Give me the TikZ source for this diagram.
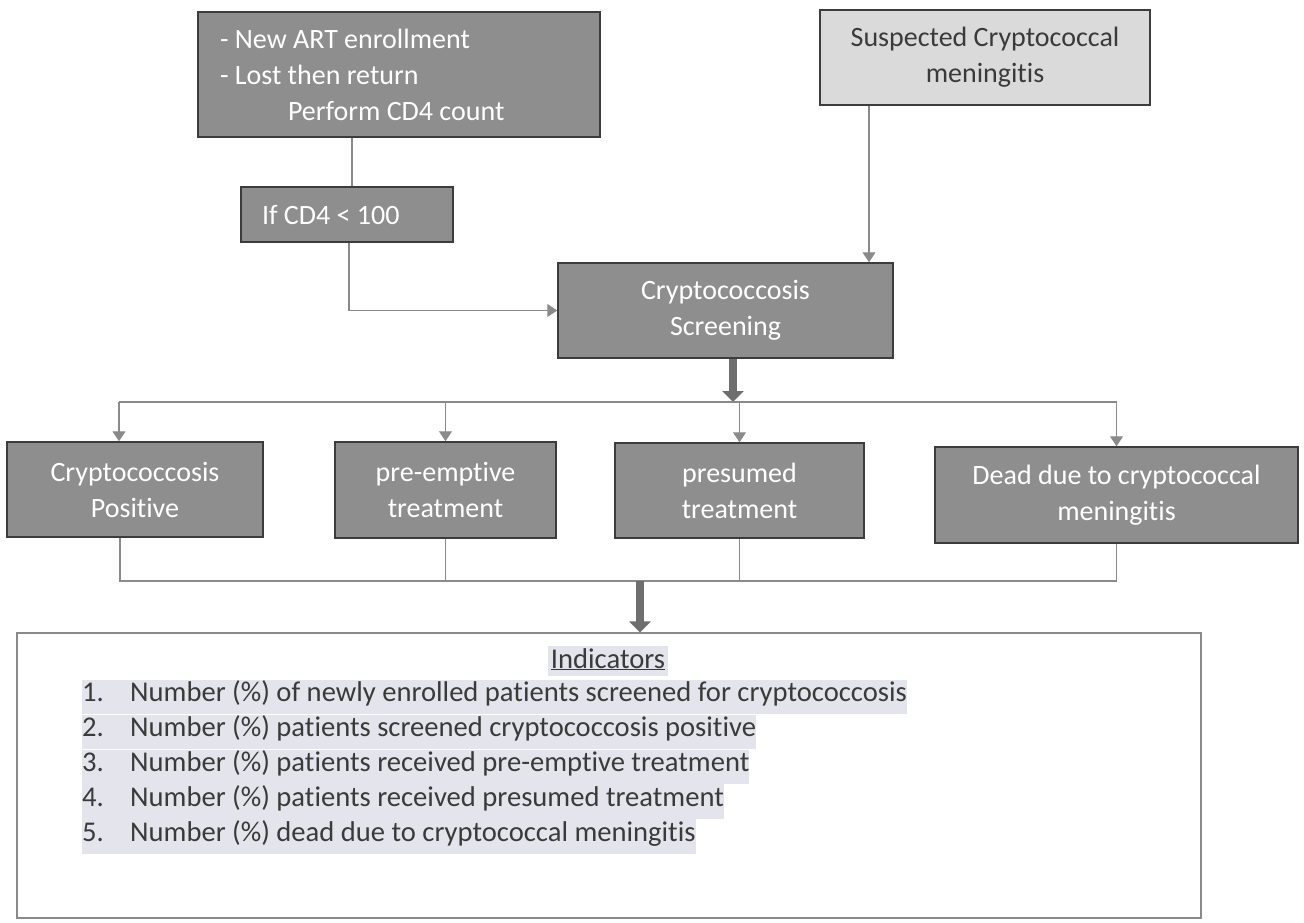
\documentclass[tikz,border=0pt]{standalone}
\usepackage{fontspec}
\setmainfont[Ligatures=NoCommon]{Carlito}
\usetikzlibrary{positioning, arrows.meta}

\definecolor{boxgray}{HTML}{8E8E8E}
\definecolor{lightbox}{HTML}{DADADA}
\definecolor{edgegray}{HTML}{3C3C3C}
\definecolor{linegray}{HTML}{8A8A8A}
\definecolor{fatgray}{HTML}{6E6E6E}
\definecolor{hilite}{HTML}{E4E4EC}
\definecolor{inkgray}{HTML}{3A3A3A}

\tikzset{
    block/.style={draw=edgegray, line width=1.5pt, fill=boxgray, text=white,
        font=\fontsize{28}{36}\selectfont, align=center, inner sep=0pt},
    light/.style={block, fill=lightbox, text=inkgray},
    leftblock/.style={block, align=left, text width=#1,
        execute at begin node={\spaceskip=0pt\xspaceskip=0pt\relax}},
    link/.style={draw=linegray, line width=1.2pt},
    feed/.style={link, -{Triangle[length=10pt,width=13pt]}},
    fat/.style={draw=fatgray, line width=8pt, -{Triangle[length=11pt,width=21pt]}},
    item/.style={fill=hilite, inner sep=0pt, text height=22pt, text depth=12.5pt,
        text=inkgray, font=\fontsize{28.6}{34}\selectfont}
}

\begin{document}
\begin{tikzpicture}[x=1pt, y=-1pt]
    % flow boxes
    \useasboundingbox (0,0) rectangle (1304,922);
    \node[leftblock=358pt, minimum width=402pt, minimum height=125pt] (1) at (399,74.5) {- New ART enrollment\\- Lost then return\\\hspace*{68pt}Perform CD4 count};
    \node[light, minimum width=330pt, minimum height=95pt] (2) at (985,57.5) {Suspected Cryptococcal\\meningitis};
    \node[leftblock=170pt, minimum width=212pt, minimum height=55pt] (3) at (347,214.5) {If CD4 < 100};
    \node[block, minimum width=335pt, minimum height=95pt] (4) at (725.5,310.5) {Cryptococcosis\\Screening};
    \node[block, minimum width=256pt, minimum height=95pt] (5) at (135,489.5) {Cryptococcosis\\Positive};
    \node[block, minimum width=221pt, minimum height=96pt] (6) at (445.5,490) {pre-emptive\\treatment};
    \node[block, minimum width=249pt, minimum height=95pt] (7) at (739.5,490.5) {presumed\\treatment};
    \node[block, minimum width=363pt, minimum height=96pt] (8) at (1116.5,495) {Dead due to cryptococcal\\meningitis};
    \node[draw=linegray, line width=1.2pt, minimum width=1184pt, minimum height=285pt, inner sep=0pt] (9) at (609,775.5) {};

    % indicators list
    \node[item, text depth=8pt, inner xsep=3pt] (10) at (608,661) {\underline{Indicators}};
    \node[item, anchor=west] (11) at (82,697) {\makebox[48pt][l]{1.}Number (\%) of newly enrolled patients screened for cryptococcosis};
    \node[item, below=0pt of 11.south west, anchor=north west] (12) {\makebox[48pt][l]{2.}Number (\%) patients screened cryptococcosis positive};
    \node[item, below=0pt of 12.south west, anchor=north west] (13) {\makebox[48pt][l]{3.}Number (\%) patients received pre-emptive treatment};
    \node[item, below=0pt of 13.south west, anchor=north west] (14) {\makebox[48pt][l]{4.}Number (\%) patients received presumed treatment};
    \node[item, below=0pt of 14.south west, anchor=north west] (15) {\makebox[48pt][l]{5.}Number (\%) dead due to cryptococcal meningitis};

    \coordinate (split) at (733,402);
    \coordinate (join) at (640,581);

    \draw[link] ([xshift=5pt]3.north |- 1.south) -- ([xshift=5pt]3.north);
    \draw[feed] ([xshift=2pt]3.south) |- (4.west);
    \draw[feed] ([xshift=-116pt]2.south) -- ([xshift=-116pt]2.south |- 4.north);
    \draw[fat] (4.south -| split) -- (split);
    \draw[link] ([xshift=-16pt]5.north |- split) -- (8.north |- split);
    \draw[feed] ([xshift=-16pt]5.north |- split) -- ([xshift=-16pt]5.north);
    \draw[feed] (6.north |- split) -- (6.north);
    \draw[feed] (7.north |- split) -- (7.north);
    \draw[feed] (8.north |- split) -- (8.north);
    \draw[link] ([xshift=-15pt]5.south) -- ([xshift=-15pt]5.south |- join) -- (8.south |- join) -- (8.south);
    \draw[link] (6.south) -- (6.south |- join);
    \draw[link] (7.south) -- (7.south |- join);
    \draw[fat] (join) -- (9.north -| join);
\end{tikzpicture}
\end{document}
